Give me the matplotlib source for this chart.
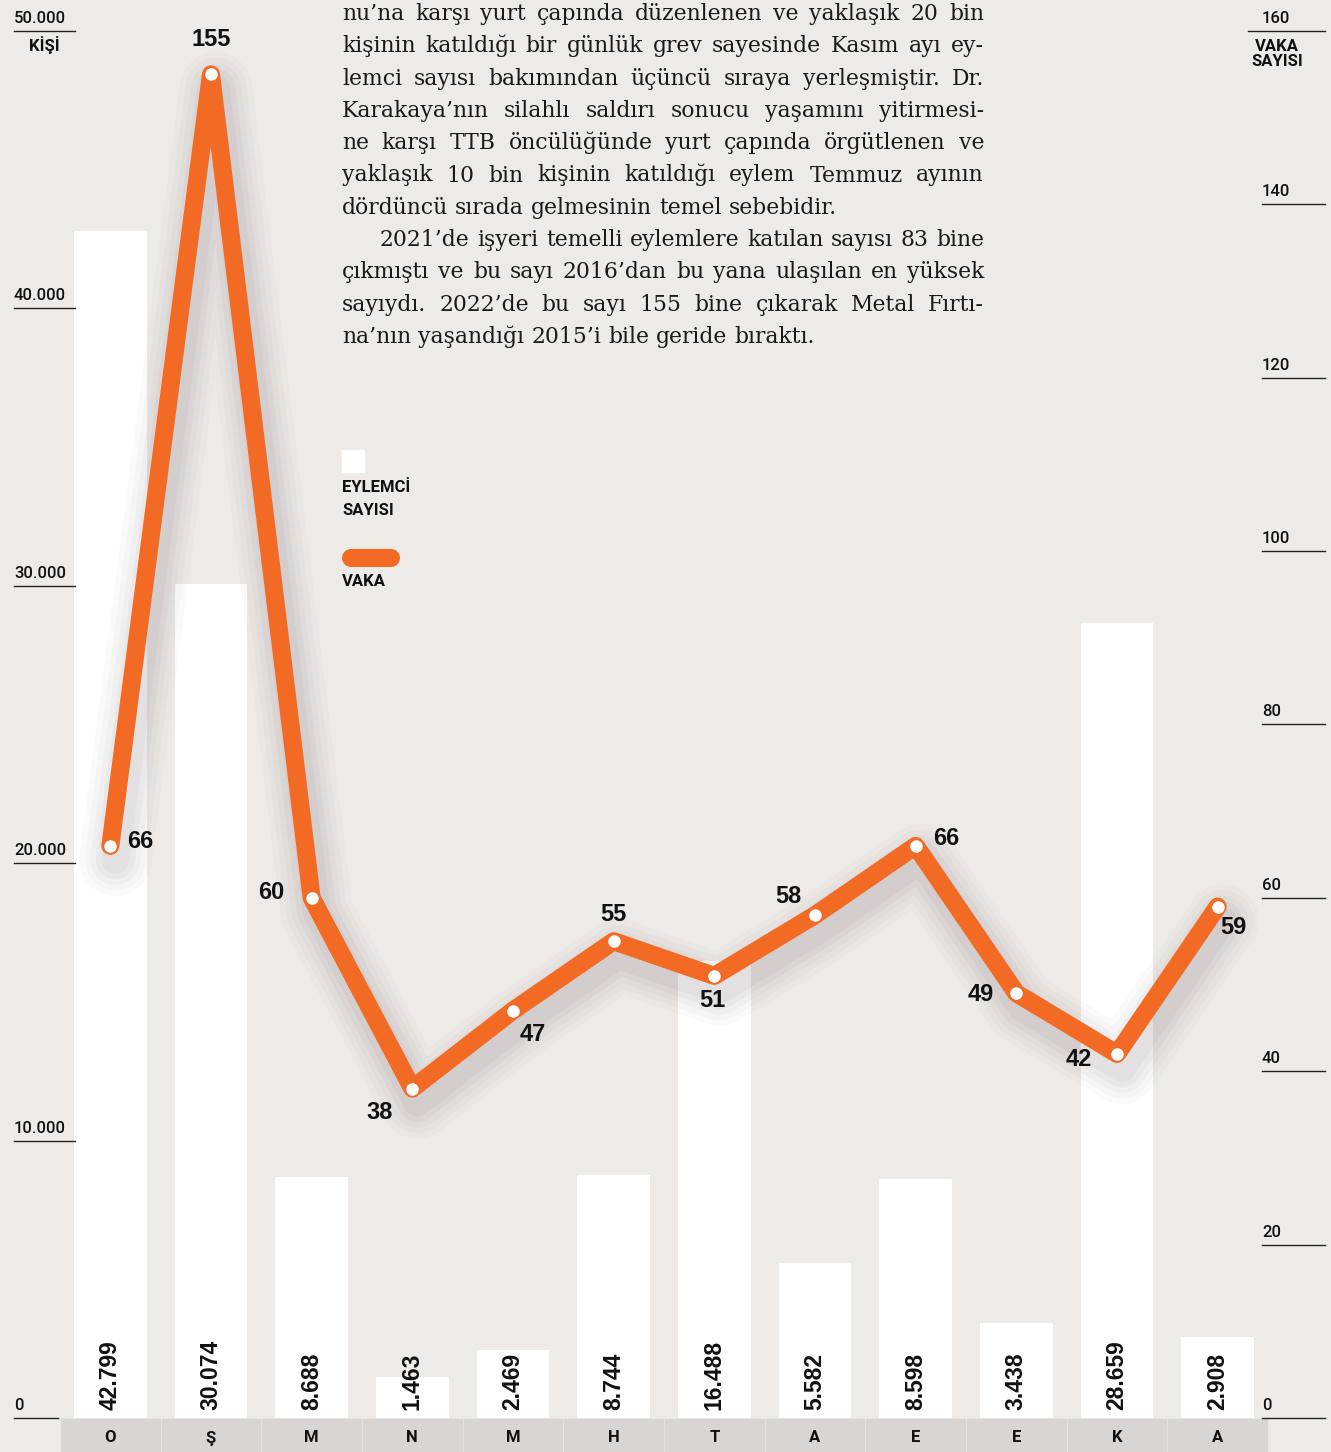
import matplotlib
matplotlib.use("Agg")
import matplotlib.pyplot as plt
from matplotlib import transforms
from matplotlib.patches import Rectangle
from matplotlib.lines import Line2D

# data
months = ['O', 'Ş', 'M', 'N', 'M', 'H', 'T', 'A', 'E', 'E', 'K', 'A']
eylemci = [42799, 30074, 8688, 1463, 2469, 8744, 16488, 5582, 8598, 3438, 28659, 2908]
vaka = [66, 155, 60, 38, 47, 55, 51, 58, 66, 49, 42, 59]
bar_labels = ['42.799', '30.074', '8.688', '1.463', '2.469', '8.744',
              '16.488', '5.582', '8.598', '3.438', '28.659', '2.908']
left_ticks = [0, 10000, 20000, 30000, 40000, 50000]
left_tick_labels = ['0', '10.000', '20.000', '30.000', '40.000', '50.000']
right_ticks = [0, 20, 40, 60, 80, 100, 120, 140, 160]
# label offsets (pixels) for the vaka values
vaka_offsets = [(30, 4), (0, 35), (-40, 5), (-33, -24), (20, -24), (0, 27),
                (-2, -25), (-27, 19), (31, 7), (-36, -1), (-38, -6), (16, -21)]

paragraph = [
    ("nu’na karşı yurt çapında düzenlenen ve yaklaşık 20 bin", True, 0),
    ("kişinin katıldığı bir günlük grev sayesinde Kasım ayı ey-", True, 0),
    ("lemci sayısı bakımından üçüncü sıraya yerleşmiştir. Dr.", True, 0),
    ("Karakaya’nın silahlı saldırı sonucu yaşamını yitirmesi-", True, 0),
    ("ne karşı TTB öncülüğünde yurt çapında örgütlenen ve", True, 0),
    ("yaklaşık 10 bin kişinin katıldığı eylem Temmuz ayının", True, 0),
    ("dördüncü sırada gelmesinin temel sebebidir.", False, 0),
    ("2021’de işyeri temelli eylemlere katılan sayısı 83 bine", True, 38),
    ("çıkmıştı ve bu sayı 2016’dan bu yana ulaşılan en yüksek", True, 0),
    ("sayıydı. 2022’de bu sayı 155 bine çıkarak Metal Fırtı-", True, 0),
    ("na’nın yaşandığı 2015’i bile geride bıraktı.", False, 0),
]

W, H = 1331, 1452
BG = '#eeeae8'
ORANGE = '#f26a24'
BOXGRAY = '#d9d5d4'
LABEL_FONT = ['Liberation Sans Narrow', 'Roboto', 'DejaVu Sans']
AXIS_FONT = ['Roboto', 'DejaVu Sans']
NUM_FONT = ['Liberation Sans', 'DejaVu Sans']
SERIF = ['DejaVu Serif']


def fx(px):
    return px / W


def fy(py):
    return 1 - py / H


fig = plt.figure(figsize=(W / 100, H / 100), dpi=100, facecolor=BG)
ax = fig.add_axes([fx(60), fy(1418), fx(1208), (1418 - 31) / H])
ax.set_facecolor('none')
ax.set_xlim(-0.5, 11.5)
ax.set_ylim(0, 50000)
ax.axis('off')
ax2 = ax.twinx()
ax2.set_ylim(0, 160)
ax2.axis('off')

x = list(range(len(months)))

# bars
ax.bar(x, eylemci, width=0.725, color='white', zorder=1)
for i, lab in enumerate(bar_labels):
    ax.annotate(lab, (i, 0), xytext=(0, 8), textcoords='offset pixels',
                rotation=90, ha='center', va='bottom', fontsize=16.5,
                fontweight='bold', family=NUM_FONT, color='#111111')

# month boxes under the chart
bx = transforms.blended_transform_factory(ax.transData, fig.transFigure)
for i, m in enumerate(months):
    ax.add_patch(Rectangle((i - 0.5 + 0.01, 0), 0.98, fy(1419), transform=bx,
                           color=BOXGRAY, clip_on=False, zorder=0))
    ax.text(i, fy(1438), m, transform=bx, ha='center', va='center',
            fontsize=12, fontweight='bold', family=LABEL_FONT, color='#111111')

# left axis
tl = transforms.blended_transform_factory(fig.transFigure, ax.transData)
for v, lab in zip(left_ticks, left_tick_labels):
    x1 = 58 if v == 0 else 75
    ax.add_line(Line2D([fx(14), fx(x1)], [v, v], transform=tl, color='#222222',
                       lw=1, clip_on=False))
    ax.annotate(lab, (fx(14), v), xycoords=tl, xytext=(0, 5),
                textcoords='offset pixels', ha='left', va='bottom',
                fontsize=12, fontweight='medium', family=AXIS_FONT, color='#111111')
fig.text(fx(44), fy(45), 'KİŞİ', ha='center', va='center', fontsize=12,
         fontweight='bold', family=LABEL_FONT, color='#111111')

# right axis
tr = transforms.blended_transform_factory(fig.transFigure, ax2.transData)
for v in right_ticks:
    x0 = 1248 if v == 160 else 1262
    ax2.add_line(Line2D([fx(x0), fx(1325)], [v, v], transform=tr, color='#222222',
                        lw=1, clip_on=False))
    ax2.annotate(str(v), (fx(1262), v), xycoords=tr, xytext=(0, 5),
                 textcoords='offset pixels', ha='left', va='bottom',
                 fontsize=12, fontweight='medium', family=AXIS_FONT, color='#111111')
fig.text(fx(1277), fy(54), 'VAKA\nSAYISI', ha='center', va='center', fontsize=12,
         fontweight='bold', family=LABEL_FONT, color='#111111', linespacing=0.95)

# soft shadow under the line
sh = transforms.offset_copy(ax2.transData, fig, x=5, y=-14, units='dots')
for lw, a in [(52, 0.018), (44, 0.022), (36, 0.028), (28, 0.034), (20, 0.04)]:
    ax2.plot(x, vaka, color='#3a3030', lw=lw, alpha=a, transform=sh,
             solid_joinstyle='round', solid_capstyle='round', clip_on=False)

# vaka line
ax2.plot(x, vaka, color=ORANGE, lw=13, solid_joinstyle='round',
         solid_capstyle='round', clip_on=False, zorder=3)
ax2.plot(x, vaka, ls='none', marker='o', ms=8, mfc='white', mec='white',
         clip_on=False, zorder=4)
for i, (v, off) in enumerate(zip(vaka, vaka_offsets)):
    ax2.annotate(str(v), (i, v), xytext=off, textcoords='offset pixels',
                 ha='center', va='center', fontsize=17, fontweight='bold',
                 family=NUM_FONT, color='#111111', zorder=5)

# legend
fig.patches.append(Rectangle((fx(342), fy(472)), fx(22), 22 / H,
                             transform=fig.transFigure, color='white'))
fig.text(fx(342), fy(487), 'EYLEMCİ', ha='left', va='center', fontsize=12,
         fontweight='bold', family=LABEL_FONT, color='#111111')
fig.text(fx(342), fy(510), 'SAYISI', ha='left', va='center', fontsize=12,
         fontweight='bold', family=LABEL_FONT, color='#111111')
fig.lines.append(Line2D([fx(351), fx(391)], [fy(558), fy(558)],
                        transform=fig.transFigure, color=ORANGE, lw=13,
                        solid_capstyle='round'))
fig.text(fx(342), fy(582), 'VAKA', ha='left', va='center', fontsize=12,
         fontweight='bold', family=LABEL_FONT, color='#111111')

# justified paragraph text
renderer = fig.canvas.get_renderer()
LEFT, RIGHT = 342, 984


def word_width(w, fs):
    t = fig.text(0, 0, w, fontsize=fs, family=SERIF)
    wd = t.get_window_extent(renderer).width
    t.remove()
    return wd


# pick a size at which the tightest justified line just fits
FS = 17.0
fit = min((RIGHT - LEFT - ind) / word_width(line, FS)
          for line, just, ind in paragraph if just)
FS = FS * min(fit, 1.0) * 0.995
space_w = word_width('a a', FS) - word_width('aa', FS)

for k, (line, justify, indent) in enumerate(paragraph):
    base = 20 + k * 32.3
    words = line.split(' ')
    widths = [word_width(w, FS) for w in words]
    start = LEFT + indent
    if justify and len(words) > 1:
        gap = (RIGHT - start - sum(widths)) / (len(words) - 1)
    else:
        gap = space_w
    xp = start
    for w, wd in zip(words, widths):
        fig.text(fx(xp), fy(base), w, ha='left', va='baseline', fontsize=FS,
                 family=SERIF, color='#1a1a1a')
        xp += wd + gap

fig.savefig('out.png', dpi=100, facecolor=BG)
